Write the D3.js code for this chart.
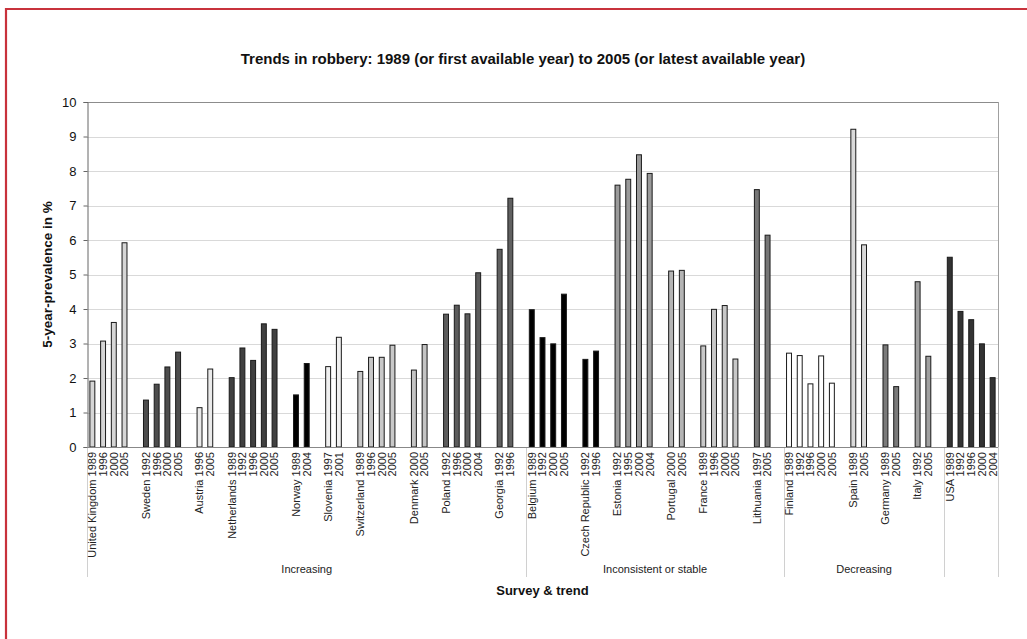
<!DOCTYPE html>
<html>
<head>
<meta charset="utf-8">
<script src="https://cdn.jsdelivr.net/npm/d3@7"></script>
<style>
  html, body { margin: 0; padding: 0; background: #fff; }
  svg { display: block; font-family: "Liberation Sans", Arial, sans-serif; }
</style>
</head>
<body>
<svg id="chart" width="1027" height="639"></svg>
<script>
// ---- data ----
const groupNames = ["Increasing", "Inconsistent or stable", "Decreasing", ""];
const countries = ["United Kingdom", "Sweden", "Austria", "Netherlands", "Norway", "Slovenia", "Switzerland", "Denmark", "Poland", "Georgia",
  "Belgium", "Czech Republic", "Estonia", "Portugal", "France", "Lithuania",
  "Finland", "Spain", "Germany", "Italy",
  "USA"];
const countryGroup = [0,0,0,0,0,0,0,0,0,0, 1,1,1,1,1,1, 2,2,2,2, 3];
const years = [
  [1989, 1996, 2000, 2005],
  [1992, 1996, 2000, 2005],
  [1996, 2005],
  [1989, 1992, 1996, 2000, 2005],
  [1989, 2004],
  [1997, 2001],
  [1989, 1996, 2000, 2005],
  [2000, 2005],
  [1992, 1996, 2000, 2004],
  [1992, 1996],
  [1989, 1992, 2000, 2005],
  [1992, 1996],
  [1992, 1995, 2000, 2004],
  [2000, 2005],
  [1989, 1996, 2000, 2005],
  [1997, 2005],
  [1989, 1992, 1996, 2000, 2005],
  [1989, 2005],
  [1989, 2005],
  [1992, 2005],
  [1989, 1992, 1996, 2000, 2004]
];
const prevalence = [
  [1.91, 3.07, 3.61, 5.92],
  [1.36, 1.82, 2.32, 2.75],
  [1.14, 2.26],
  [2.01, 2.87, 2.51, 3.57, 3.41],
  [1.51, 2.42],
  [2.33, 3.18],
  [2.19, 2.60, 2.60, 2.95],
  [2.23, 2.97],
  [3.85, 4.11, 3.86, 5.05],
  [5.73, 7.21],
  [3.98, 3.17, 2.99, 4.43],
  [2.54, 2.78],
  [7.59, 7.76, 8.47, 7.93],
  [5.10, 5.12],
  [2.93, 3.99, 4.10, 2.55],
  [7.46, 6.14],
  [2.72, 2.65, 1.83, 2.64, 1.85],
  [9.21, 5.86],
  [2.96, 1.75],
  [4.79, 2.63],
  [5.50, 3.93, 3.69, 2.99, 2.01]
];
const yTicks = [0, 1, 2, 3, 4, 5, 6, 7, 8, 9, 10];
// fill colour of each country's bars
const countryFill = ["#d6d6d6", "#4d4d4d", "#ebebeb", "#404040", "#000000", "#f0f0f0", "#c8c8c8", "#c4c4c4", "#5c5c5c", "#606060",
  "#000000", "#000000", "#9a9a9a", "#b4b4b4", "#c8c8c8", "#767676",
  "#ffffff", "#d9d9d9", "#7a7a7a", "#a0a0a0",
  "#333333"];

// ---- build category slots ----
const slots = [];
let sid = 0;
countries.forEach((c, ci) => {
  years[ci].forEach((yr, j) => {
    slots.push({ id: "s" + (sid++), label: (j === 0 ? c + " " : "") + yr, value: prevalence[ci][j], ci, group: countryGroup[ci] });
  });
  if (ci < countries.length - 1) slots.push({ id: "s" + (sid++), label: "", value: null, ci: -1, group: countryGroup[ci] });
});

// ---- layout ----
const svg = d3.select("#chart");
const pLeft = 87, pRight = 998, pTop = 102, pBottom = 447;
const x = d3.scaleBand().domain(slots.map(d => d.id)).range([pLeft, pRight]).padding(0);
const y = d3.scaleLinear().domain([0, 10]).range([pBottom, pTop]);
const bw = x.bandwidth();

// red frame (top & left)
svg.append("line").attr("x1", 6).attr("x2", 1027).attr("y1", 9).attr("y2", 9).attr("stroke", "#c8323c").attr("stroke-width", 2.2);
svg.append("line").attr("x1", 6).attr("x2", 6).attr("y1", 8).attr("y2", 639).attr("stroke", "#c8323c").attr("stroke-width", 2.2);

// gridlines
svg.append("g").selectAll("line").data(yTicks.filter(t => t > 0 && t < 10)).join("line")
  .attr("x1", pLeft).attr("x2", pRight)
  .attr("y1", d => Math.round(y(d)) + 0.5).attr("y2", d => Math.round(y(d)) + 0.5)
  .attr("stroke", "#d9d9d9").attr("stroke-width", 1);

// plot border top/right
svg.append("line").attr("x1", pLeft).attr("x2", pRight).attr("y1", pTop + 0.5).attr("y2", pTop + 0.5).attr("stroke", "#8c8c8c");
svg.append("line").attr("x1", pRight + 0.5).attr("x2", pRight + 0.5).attr("y1", pTop).attr("y2", pBottom).attr("stroke", "#a0a0a0");

// y axis
const yAxis = d3.axisLeft(y).tickValues(yTicks).tickSize(4).tickPadding(7).tickFormat(d3.format("d"));
const gy = svg.append("g").attr("transform", `translate(${pLeft + 0.5},0)`).call(yAxis);
gy.select(".domain").attr("stroke", "#666");
gy.selectAll(".tick line").attr("stroke", "#666");
gy.selectAll(".tick text").attr("font-size", 13).attr("fill", "#111").attr("font-family", "Liberation Sans, Arial, sans-serif");

// group separators below axis
const groupBounds = [];
groupNames.forEach((g, gi) => {
  const s = slots.filter(d => d.group === gi);
  groupBounds.push({ gi, x0: x(s[0].id), x1: x(s[s.length - 1].id) + bw, name: g });
});
const sepX = [pLeft, ...groupBounds.map(b => b.x1)];
svg.append("g").selectAll("line").data(sepX).join("line")
  .attr("x1", d => Math.round(d) + 0.5).attr("x2", d => Math.round(d) + 0.5)
  .attr("y1", pBottom).attr("y2", 577)
  .attr("stroke", "#d0d0d0");

// bars
svg.append("g").selectAll("rect").data(slots.filter(d => d.value !== null)).join("rect")
  .attr("x", d => x(d.id) + bw * 0.27)
  .attr("width", bw * 0.46)
  .attr("y", d => y(d.value))
  .attr("height", d => y(0) - y(d.value))
  .attr("fill", d => countryFill[d.ci])
  .attr("stroke", "#1a1a1a").attr("stroke-width", 1);

// x axis line
svg.append("line").attr("x1", pLeft).attr("x2", pRight).attr("y1", pBottom + 0.5).attr("y2", pBottom + 0.5).attr("stroke", "#888");

// category labels
svg.append("g").selectAll("text").data(slots.filter(d => d.label !== "")).join("text")
  .attr("transform", d => `translate(${x(d.id) + bw / 2},452) rotate(-90)`)
  .attr("text-anchor", "end")
  .attr("dy", "0.35em")
  .attr("font-size", 11)
  .attr("fill", "#222")
  .text(d => d.label);

// group labels
svg.append("g").selectAll("text").data(groupBounds.filter(b => b.name !== "")).join("text")
  .attr("x", d => (d.x0 + d.x1) / 2).attr("y", 573)
  .attr("text-anchor", "middle").attr("font-size", 11).attr("fill", "#222")
  .text(d => d.name);

// axis titles
svg.append("text").attr("x", (pLeft + pRight) / 2).attr("y", 595)
  .attr("text-anchor", "middle").attr("font-size", 13).attr("font-weight", "bold").attr("fill", "#111")
  .text("Survey & trend");
svg.append("text").attr("transform", `translate(52,${(pTop + pBottom) / 2}) rotate(-90)`)
  .attr("text-anchor", "middle").attr("font-size", 13.5).attr("font-weight", "bold").attr("fill", "#111")
  .text("5-year-prevalence in %");

// title
svg.append("text").attr("x", 523).attr("y", 64)
  .attr("text-anchor", "middle").attr("font-size", 15).attr("font-weight", "bold").attr("fill", "#111")
  .text("Trends in robbery: 1989 (or first available year) to 2005 (or latest available year)");
</script>
</body>
</html>
